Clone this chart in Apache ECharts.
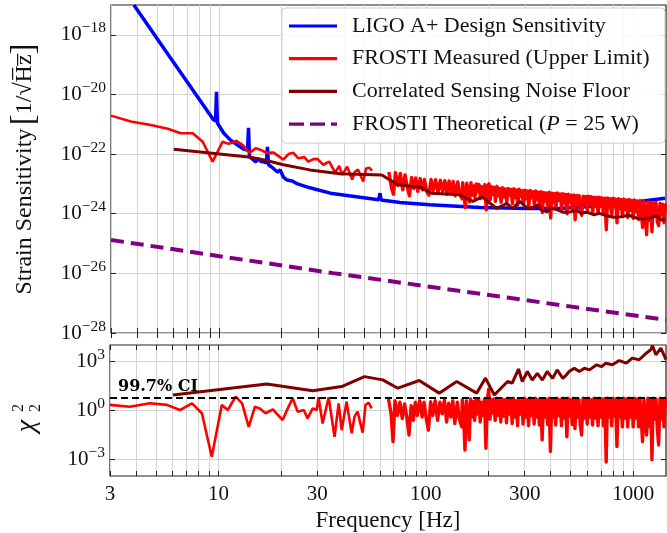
<!DOCTYPE html>
<html><head><meta charset="utf-8">
<script src="https://cdn.jsdelivr.net/npm/echarts@6/dist/echarts.min.js"></script>
<style>html,body{margin:0;padding:0;background:#fff}#c{width:667px;height:533px}</style>
</head><body><div id="c"></div>
<script>
// ---------------- data ----------------
const xTickLabels = [3, 10, 30, 100, 300, 1000];
const xGridValues = [3,4,5,6,7,8,9,10,20,30,40,50,60,70,80,90,100,200,300,400,500,600,700,800,900,1000];
const strainTicks = [1e-28, 1e-26, 1e-24, 1e-22, 1e-20, 1e-18];
const chiTicks = [1e-3, 1, 1e3];

const ligoFreq = [3.87,5.84,9.38,9.6,9.7,9.8,9.93,10.5,11.3,12.4,13.1,13.7,13.85,14.0,14.6,15.0,15.4,15.9,16.4,16.9,17.1,17.3,18.1,19.1,19.7,20.4,21.3,22.5,23.9,27.4,34.4,47.9,59.0,59.8,60.5,74.8,104,182,316,440,688,1069,1425];
const ligoStrain = [1.0e-17,1.62e-19,1.41e-21,1.29e-21,1.23e-20,1.1e-21,9.5e-22,5.1e-22,3.0e-22,1.9e-22,1.48e-22,1.38e-22,7.6e-22,8.1e-23,6.5e-23,5.5e-23,7.0e-23,5.6e-23,5.5e-23,5.1e-23,1.74e-22,4.4e-23,3.5e-23,2.5e-23,2.95e-23,1.7e-23,1.35e-23,1.26e-23,1.0e-23,7.4e-24,4.9e-24,3.55e-24,2.95e-24,4.9e-24,2.9e-24,2.4e-24,2.0e-24,1.62e-24,1.51e-24,1.51e-24,1.86e-24,2.57e-24,3.3e-24];

const measFreqLow = [3.0,3.74,4.67,5.64,6.52,7.45,8.32,9.29,10.38,11.1,12.1,13.0,14.0,15.0,15.8,16.9,18.3,20.4,21.6,22.8,24.1,25.8,26.9,28.5,29.8,30.4,31.8,34.0,36.3,38.0,39.3,41.5,43.9,45.3,46.9,49.6,51.2,53.0,54.8];
const measStrainLow = [1.95e-21,1.23e-21,9.5e-22,7.1e-22,5.0e-22,5.0e-22,2.6e-22,5.6e-23,2.6e-22,2.2e-22,2.8e-22,2.0e-22,1.1e-22,1.58e-22,1.41e-22,1.1e-22,1.12e-22,6.5e-23,1.0e-22,1.1e-22,7.2e-23,7.9e-23,5.6e-23,6.8e-23,6.9e-23,7.9e-23,4.4e-23,5.6e-23,2.4e-23,4.0e-23,2.0e-23,3.8e-23,1.41e-23,2.6e-23,3.0e-23,1.2e-23,3.3e-23,3.5e-23,2.8e-23];
const measChiLow = [2.2,1.7,2.75,2.2,1.07,2.75,0.68,0.0015,2.2,1.07,7.1,2.75,0.1,1.7,1.35,0.68,1.17,0.26,1.35,5.6,0.85,1.07,0.33,1.35,1.07,6.5,0.16,6.5,0.025,2.75,0.063,3.5,0.04,0.42,0.85,0.044,2.2,3.0,1.35];

const measFreqHigh = [66,68,69.5,71,73,75,77,79,81,83,85,87,89,91,93.5,96,98,100.5,103,105.5,108,111,114,117,120,123,126,129,132,135,138,142,145,149,
  150,152,154.5,157,159.5,162,164.5,167,169.5,172,174.5,177,180,183,186,189,192,195,198,201,204,207,210,213,216,219.5,223,226.5,230,233.5,
  237,241,245,249,253,257,261,265,269,273,277,281,285.5,290,294.5,299,303.5,308,313,318,323,328,333,338,343,348,353,358.5,364,369.5,
  375,381,387,393,399,405,411,417,423,430,437,444,451,458,465,472,479,486,493,500,508,516,524,532,540,548,556,564,573,582,
  591,600,609,618,627,637,647,657,667,677,687,697,708,719,730,741,752,763,775,787,799,811,823,835,848,861,874,887,900,914,
  928,942,956,970,985,1000,1015,1030,1046,1062,1078,1094,1110,1127,1144,1161,1178,1196,1214,1232,1250,1269,1288,1307,1327,1347,1367,1388,1409,1430,1440];
const measStrainHigh = [25e-24,7.1e-24,4.5e-24,24e-24,8.9e-24,22.4e-24,6.3e-24,20e-24,7.9e-24,4.0e-24,16.6e-24,7.1e-24,15.8e-24,5.6e-24,15.1e-24,6.3e-24,14.1e-24,5.6e-24,4.2e-24,14.1e-24,6.0e-24,13.8e-24,5.0e-24,13.2e-24,5.6e-24,12.9e-24,4.5e-24,12.6e-24,5.0e-24,12e-24,4.0e-24,11.7e-24,4.5e-24,3.2e-24,
  11e-24,5.0e-24,1.6e-24,10.5e-24,6.5e-24,2.5e-24,11e-24,4.2e-24,8.5e-24,3.5e-24,10e-24,5.5e-24,9.5e-24,3.2e-24,8.0e-24,4.5e-24,9.5e-24,1.35e-24,8.5e-24,10e-24,3.0e-24,8.0e-24,4.5e-24,7.6e-24,2.6e-24,8.3e-24,4.0e-24,7.0e-24,2.4e-24,7.4e-24,
  3.6e-24,6.8e-24,2.5e-24,7.1e-24,4.2e-24,6.5e-24,2.2e-24,6.9e-24,3.5e-24,6.3e-24,2.0e-24,6.6e-24,3.8e-24,5.9e-24,2.1e-24,6.2e-24,3.2e-24,5.8e-24,1.8e-24,6.0e-24,3.4e-24,5.5e-24,1.9e-24,5.8e-24,3.0e-24,5.3e-24,1.7e-24,5.5e-24,1.1e-24,5.2e-24,
  2.6e-24,5.0e-24,1.6e-24,5.3e-24,0.72e-24,4.9e-24,2.4e-24,4.8e-24,1.5e-24,5.0e-24,2.8e-24,4.6e-24,1.4e-24,4.7e-24,2.3e-24,4.4e-24,1.0e-24,4.5e-24,2.5e-24,4.2e-24,1.4e-24,4.3e-24,0.63e-24,4.1e-24,2.2e-24,4.0e-24,1.3e-24,0.89e-24,3.9e-24,2.0e-24,
  3.8e-24,1.2e-24,3.9e-24,2.1e-24,3.7e-24,1.1e-24,3.6e-24,1.9e-24,3.5e-24,1.0e-24,3.6e-24,1.8e-24,3.4e-24,0.95e-24,3.3e-24,0.29e-24,3.4e-24,1.6e-24,3.2e-24,0.85e-24,3.3e-24,1.7e-24,3.1e-24,0.5e-24,3.2e-24,1.5e-24,3.0e-24,0.8e-24,3.1e-24,1.4e-24,
  2.9e-24,0.75e-24,3.0e-24,1.3e-24,2.8e-24,0.7e-24,2.9e-24,1.2e-24,2.7e-24,0.65e-24,2.8e-24,1.1e-24,0.35e-24,2.6e-24,1.0e-24,0.2e-24,2.5e-24,0.6e-24,2.4e-24,0.25e-24,2.3e-24,0.95e-24,2.4e-24,0.55e-24,0.4e-24,2.2e-24,0.9e-24,2.1e-24,0.5e-24,2.0e-24,1.2e-24];
const measChiHigh = [5.6,0.63,0.0126,4.0,0.5,3.2,0.32,2.5,0.4,0.032,2.0,0.25,3.2,0.5,4.0,0.4,3.2,0.32,0.063,3.5,0.5,4.0,0.25,3.2,0.63,4.5,0.2,2.8,0.4,4.0,0.16,3.2,0.32,0.1,
  4.5,0.6,0.0038,4.0,0.8,0.016,5.0,0.4,3.5,0.25,4.5,0.6,5.0,0.2,3.2,0.5,5.0,0.005,4.0,20,0.3,4.5,0.7,5.0,0.25,5.6,0.5,4.0,0.2,5.0,
  0.45,4.5,0.18,5.6,0.6,4.5,0.16,5.6,0.4,4.0,0.12,5.0,0.6,4.0,0.15,5.6,0.4,4.5,0.12,5.6,0.5,4.5,0.15,5.6,0.4,4.5,0.13,5.0,0.016,5.0,
  0.4,4.5,0.14,5.6,0.0032,5.0,0.4,4.5,0.13,5.6,0.5,4.5,0.12,5.6,0.35,4.5,0.025,5.6,0.45,4.5,0.14,5.6,0.079,5.0,0.4,4.5,0.13,0.032,5.6,0.35,
  5.0,0.15,5.6,0.4,4.5,0.13,5.6,0.35,5.0,0.12,5.6,0.4,5.0,0.12,5.6,0.00072,5.6,0.4,5.0,0.12,5.6,0.45,5.0,0.0063,5.6,0.4,5.0,0.1,5.6,0.35,
  5.0,0.1,5.6,0.4,5.0,0.1,5.6,0.35,5.0,0.1,5.6,0.3,0.0126,5.0,0.3,0.032,5.6,0.1,5.0,0.001,5.6,0.3,5.0,0.08,0.0079,5.6,0.3,5.0,0.1,5.6,1.5];

const floorFreq = [6.03,14.2,17.1,20.4,27.4,38.3,61,73,93,106,145,168,186,219,245,261,283,309,330,345,360,385,400,430,460,502,530,561,600,648,680,747,800,874,950,1041,1120,1216,1300,1380,1425];
const floorStrain = [1.45e-22,7.9e-23,6.0e-23,4.4e-23,2.95e-23,2.2e-23,2.0e-23,9.3e-24,7.8e-24,4.9e-24,4.3e-24,2.6e-24,3.7e-24,1.5e-24,2.24e-24,1.5e-24,2.6e-24,1.5e-24,1.66e-24,2.0e-24,1.32e-24,1.17e-24,1.58e-24,1.35e-24,1.12e-24,1.17e-24,1.32e-24,1.05e-24,1.12e-24,9.1e-25,1.05e-24,8.5e-25,7.6e-25,7.9e-25,8.9e-25,7.1e-25,6.6e-25,7.4e-25,8.3e-25,6.0e-25,6.6e-25];

const floorChiFreq = [6.03,17.1,28.5,39.3,50.6,62,73.3,93,116,141,176,194,214,248,261,280,292,309,326,345,365,385,409,430,458,476,491,520,550,582,616,666,705,738,794,857,927,990,1069,1156,1216,1240,1287,1360,1440];
const floorChi = [8.9,41,16,29,117,74,23,68,11.5,59,11.5,95,8.9,59,47,340,59,240,72,186,72,240,91,302,91,148,240,380,240,380,302,617,479,776,617,1122,776,1585,1259,3162,5129,9120,2512,6457,1259];

const theoryFreq = [3, 35.4, 1440];
const theoryStrain = [1.32e-25, 1.02e-26, 2.75e-28];

const ciLevel = 5.8;

// ---------------- chart ----------------
const FONT = 'Liberation Serif';
const NAME_LIGO = 'LIGO A+ Design Sensitivity';
const NAME_MEAS = 'FROSTI Measured (Upper Limit)';
const NAME_FLOOR = 'Correlated Sensing Noise Floor';
const NAME_THEORY = 'FROSTI Theoretical (P = 25 W)';
function pairs(xs, ys) { return xs.map((x, i) => [x, ys[i]]); }
const expFmt = v => { const e = Math.round(Math.log10(v)); return '{b|10}{s|' + (e < 0 ? '\u2212' + (-e) : String(e)) + '}'; };
const labelRich = {
  b: { fontFamily: FONT, fontSize: 21, color: '#111' },
  s: { fontFamily: FONT, fontSize: 15.5, color: '#111', padding: [0, 0, 13, 0] }
};
const gridLine = { show: true, lineStyle: { color: '#d4d4d4', width: 1 } };
const tickBase = { inside: true, length: 5, lineStyle: { color: '#222', width: 1 } };
const solidIcon = 'path://M0,0H48V3.2H0Z';
const dashIcon = 'path://M0,0H15V3.2H0Z M21,0H36V3.2H21Z M42,0H48V3.2H42Z';
function tickOnlyX(gi) {
  return { gridIndex: gi, type: 'log', logBase: 10, min: 3, max: 1440, position: 'top',
    axisLine: { show: false }, axisTick: Object.assign({ customValues: xGridValues }, tickBase),
    axisLabel: { show: false }, splitLine: { show: false } };
}
function tickOnlyY(gi, mn, mx, ticks) {
  return { gridIndex: gi, type: 'log', logBase: 10, min: mn, max: mx, position: 'right',
    axisLine: { show: false }, axisTick: Object.assign({ customValues: ticks }, tickBase),
    axisLabel: { show: false }, splitLine: { show: false } };
}

const chart = echarts.init(document.getElementById('c'), null, { renderer: 'canvas' });
chart.setOption({
  backgroundColor: '#fff',
  animation: false,
  grid: [
    { left: 110, right: 1, top: 5, height: 328, show: true, borderColor: '#222', borderWidth: 1.2, backgroundColor: 'transparent' },
    { left: 110, right: 1, top: 345, height: 131, show: true, borderColor: '#222', borderWidth: 1.2, backgroundColor: 'transparent' }
  ],
  xAxis: [
    { gridIndex: 0, type: 'log', logBase: 10, min: 3, max: 1440,
      axisLine: { show: false }, axisTick: Object.assign({ customValues: xGridValues }, tickBase),
      axisLabel: { show: false }, splitLine: gridLine },
    { gridIndex: 1, type: 'log', logBase: 10, min: 3, max: 1440,
      axisLine: { show: false }, axisTick: Object.assign({ customValues: xGridValues }, tickBase),
      axisLabel: { customValues: xTickLabels, formatter: v => String(Math.round(v)), fontFamily: FONT, fontSize: 21, color: '#111', margin: 8 },
      splitLine: gridLine,
      name: 'Frequency [Hz]', nameLocation: 'middle', nameGap: 33,
      nameTextStyle: { fontFamily: FONT, fontSize: 23, color: '#111' } },
    tickOnlyX(0),
    tickOnlyX(1)
  ],
  yAxis: [
    { gridIndex: 0, type: 'log', logBase: 10, min: 1e-28, max: 1e-17,
      axisLine: { show: false }, axisTick: Object.assign({ customValues: strainTicks }, tickBase), splitLine: gridLine,
      axisLabel: { customValues: strainTicks, formatter: expFmt, rich: labelRich, margin: 5 },
      name: '{t|Strain Sensitivity} {k|[}{t|1/\u221AH\u0305z\u0305}{k|]}', nameLocation: 'middle', nameGap: 70, nameRotate: 90,
      nameTextStyle: { rich: { t: { fontFamily: FONT, fontSize: 24, color: '#111' }, k: { fontFamily: FONT, fontSize: 33, color: '#111' } } } },
    { gridIndex: 1, type: 'log', logBase: 10, min: 1e-4, max: 1e4,
      axisLine: { show: false }, axisTick: Object.assign({ customValues: chiTicks }, tickBase), splitLine: gridLine,
      axisLabel: { customValues: chiTicks, formatter: expFmt, rich: labelRich, margin: 5 } },
    tickOnlyY(0, 1e-28, 1e-17, strainTicks),
    tickOnlyY(1, 1e-4, 1e4, chiTicks)
  ],
  legend: {
    orient: 'vertical', left: 282, top: 8,
    padding: [7, 10, 8, 7], itemGap: 10.7, itemWidth: 48, itemHeight: 3.2,
    backgroundColor: 'rgba(255,255,255,0.85)', borderColor: '#cfcfcf', borderWidth: 1, borderRadius: 4,
    data: [
      { name: NAME_LIGO, icon: solidIcon },
      { name: NAME_MEAS, icon: solidIcon },
      { name: NAME_FLOOR, icon: solidIcon },
      { name: NAME_THEORY, icon: dashIcon }
    ],
    formatter: n => n === NAME_THEORY ? 'FROSTI Theoretical ({i|P} = 25 W)' : n,
    textStyle: { fontFamily: FONT, fontSize: 22, color: '#111', lineHeight: 22, width: 303, padding: [0, 0, 0, 10],
      rich: { i: { fontFamily: FONT, fontSize: 22, fontStyle: 'italic', color: '#111' } } }
  },
  graphic: [{
    type: 'group', x: 27, y: 420, rotation: Math.PI / 2,
    children: [
      { type: 'text', x: -6, y: 0, style: { text: '\u03C7', fontFamily: FONT, fontStyle: 'italic', fontSize: 28, fill: '#111', align: 'center', verticalAlign: 'middle' } },
      { type: 'text', x: 8, y: -8, style: { text: '2', fontFamily: FONT, fontSize: 16, fill: '#111', align: 'left', verticalAlign: 'middle' } },
      { type: 'text', x: 8, y: 9, style: { text: '2', fontFamily: FONT, fontSize: 16, fill: '#111', align: 'left', verticalAlign: 'middle' } }
    ]
  }],
  series: [
    { name: NAME_THEORY, type: 'line', xAxisIndex: 0, yAxisIndex: 0, data: pairs(theoryFreq, theoryStrain),
      symbol: 'none', lineStyle: { color: '#800080', width: 4, type: [13, 7] }, itemStyle: { color: '#800080' }, z: 2 },
    { name: NAME_LIGO, type: 'line', xAxisIndex: 0, yAxisIndex: 0, data: pairs(ligoFreq, ligoStrain),
      symbol: 'none', lineStyle: { color: '#0000ff', width: 3.5 }, itemStyle: { color: '#0000ff' }, z: 3 },
    { name: NAME_MEAS, type: 'line', xAxisIndex: 0, yAxisIndex: 0, data: pairs(measFreqLow, measStrainLow),
      symbol: 'none', lineStyle: { color: '#ff0000', width: 2.6 }, itemStyle: { color: '#ff0000' }, z: 4 },
    { name: NAME_MEAS, type: 'line', xAxisIndex: 0, yAxisIndex: 0, data: pairs(measFreqHigh, measStrainHigh),
      symbol: 'none', sampling: null, lineStyle: { color: '#ff0000', width: 3.4, join: 'round' }, itemStyle: { color: '#ff0000' }, z: 4 },
    { name: NAME_FLOOR, type: 'line', xAxisIndex: 0, yAxisIndex: 0, data: pairs(floorFreq, floorStrain),
      symbol: 'none', lineStyle: { color: '#800000', width: 3 }, itemStyle: { color: '#800000' }, z: 5 },
    { name: NAME_MEAS, type: 'line', xAxisIndex: 1, yAxisIndex: 1, data: pairs(measFreqLow, measChiLow),
      symbol: 'none', lineStyle: { color: '#ff0000', width: 2.6 }, itemStyle: { color: '#ff0000' }, z: 4,
      markLine: { silent: true, symbol: 'none', animation: false,
        lineStyle: { color: '#000', width: 2, type: [7, 4] },
        label: { show: true, position: 'insideStartTop', formatter: '99.7% CI', fontFamily: 'DejaVu Serif', fontWeight: 'bold', fontSize: 16, color: '#000', distance: [8, 3] },
        data: [{ yAxis: ciLevel }] } },
    { name: NAME_MEAS, type: 'line', xAxisIndex: 1, yAxisIndex: 1, data: pairs(measFreqHigh, measChiHigh),
      symbol: 'none', sampling: null, lineStyle: { color: '#ff0000', width: 3.4, join: 'round' }, itemStyle: { color: '#ff0000' }, z: 4 },
    { name: NAME_FLOOR, type: 'line', xAxisIndex: 1, yAxisIndex: 1, data: pairs(floorChiFreq, floorChi),
      symbol: 'none', lineStyle: { color: '#800000', width: 3 }, itemStyle: { color: '#800000' }, z: 5 }
  ]
});
</script>
</body></html>
